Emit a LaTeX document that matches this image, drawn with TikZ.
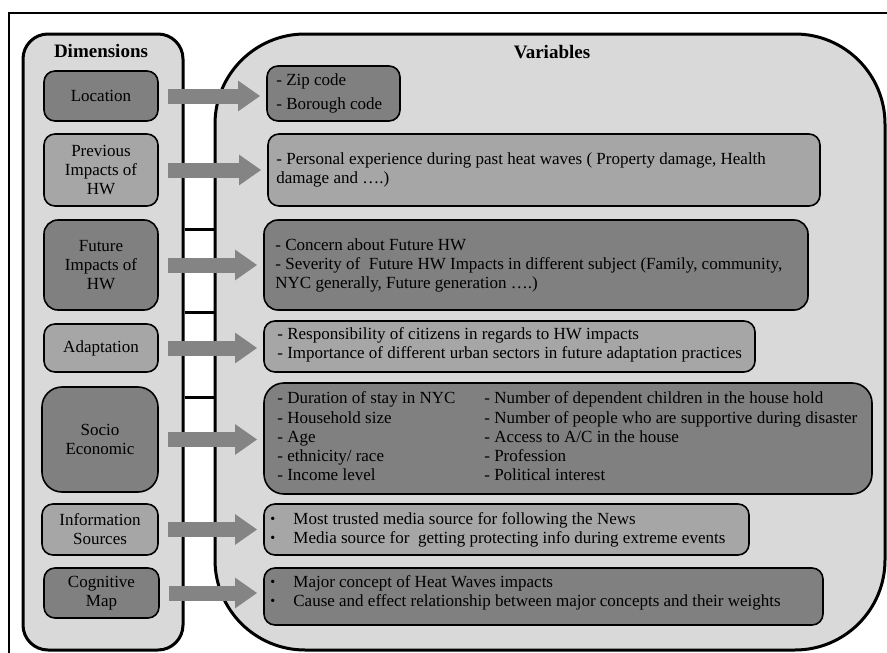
\documentclass[tikz,border=0pt]{standalone}
\usepackage{fontspec}
\setmainfont{Liberation Serif}
\usetikzlibrary{arrows.meta,calc}
\definecolor{contgray}{HTML}{D9D9D9}
\definecolor{boxdark}{HTML}{808080}
\definecolor{boxlight}{HTML}{A6A6A6}
\definecolor{arrowgray}{HTML}{848484}
\newcommand{\bul}{\makebox[23pt][l]{\raisebox{0.5pt}{\fontsize{14}{14}\selectfont •}}}
\begin{document}
\begin{tikzpicture}[x=1pt,y=-1pt,
  font=\fontsize{17}{19}\selectfont,
  cont/.style={draw, line width=3pt, fill=contgray, inner sep=0pt},
  dbox/.style={draw, line width=1.6pt, rounded corners=11pt, align=center, inner sep=0pt, minimum width=114pt},
  vbox/.style={draw, line width=1.6pt, rounded corners=11pt, inner sep=0pt},
  vtext/.style={align=left, inner sep=0pt, anchor=west},
  dark/.style={fill=boxdark},
  light/.style={fill=boxlight},
  title/.style={font=\fontsize{19}{21}\selectfont\bfseries},
  bigarrow/.style={draw=arrowgray, line width=15pt, -{Triangle[length=22pt,width=29pt]}, shorten <=9pt, shorten >=6pt},
  rung/.style={line width=3pt}]
\useasboundingbox (0,0) rectangle (887,653);
\fill[white] (0,0) rectangle (887,653);
% outer frame (only top and left edges visible)
\coordinate (fTR) at (887,13);
\coordinate (fTL) at (9,13);
\coordinate (fBL) at (9,653);
\draw[line width=2pt] (fTR) -- (fTL) -- (fBL);
% containers
\node[cont, rounded corners=25pt, minimum width=160pt, minimum height=616pt] (dimC) at (103,342) {};
\node[cont, rounded corners=90pt, minimum width=670pt, minimum height=616pt] (varC) at (550,342) {};
\node[title] (dimT) at (101,51) {Dimensions};
\node[title] (varT) at (552,52) {Variables};
% rungs
\coordinate (r1) at (0,229);
\coordinate (r2) at (0,312);
\coordinate (r3) at (0,397);
\draw[rung] (dimC.east |- r1) -- (varC.west |- r1);
\draw[rung] (dimC.east |- r2) -- (varC.west |- r2);
\draw[rung] (dimC.east |- r3) -- (varC.west |- r3);
% dimension boxes
\node[dbox, dark, minimum height=50pt] (d1) at (101,96) {Location};
\node[dbox, light, minimum height=72pt] (d2) at (101,170) {Previous\\Impacts of\\HW};
\node[dbox, dark, minimum height=90pt, rounded corners=14pt] (d3) at (101,265) {Future\\Impacts of\\HW};
\node[dbox, light, minimum height=48pt] (d4) at (101,348) {Adaptation};
\node[dbox, dark, minimum width=116pt, minimum height=105pt, rounded corners=20pt] (d5) at (100,439.5) {Socio\\Economic};
\node[dbox, light, minimum width=116pt, minimum height=51pt] (d6) at (100,529.5) {Information\\Sources};
\node[dbox, dark, minimum width=115pt, minimum height=50pt] (d7) at (101.5,593) {Cognitive\\Map};
% variable boxes
\node[vbox, dark, minimum width=133pt, minimum height=55pt] (v1) at (333.5,93.5) {};
\node[vtext] (t1) at ([xshift=10pt]v1.west) {- Zip code\\[5pt]- Borough code};
\node[vbox, light, minimum width=552pt, minimum height=72pt] (v2) at (544,170) {};
\node[vtext] (t2) at ([xshift=9pt]v2.west) {- Personal experience during past heat waves ( Property damage, Health\\damage and ….)};
\node[vbox, dark, minimum width=544pt, minimum height=90pt, rounded corners=14pt] (v3) at (536,265) {};
\node[vtext] (t3) at ([xshift=12pt]v3.west) {- Concern about Future HW\\- Severity of\ \ Future HW Impacts in different subject (Family, community,\\NYC generally, Future generation ….)};
\node[vbox, light, minimum width=491pt, minimum height=51pt] (v4) at (509.5,346.5) {};
\node[vtext] (t4) at ([xshift=14pt,yshift=2pt]v4.west) {- Responsibility of citizens in regards to HW impacts\\- Importance of different urban sectors in future adaptation practices};
\node[vbox, dark, minimum width=608pt, minimum height=111pt, rounded corners=20pt] (v5) at (568,438.5) {};
\node[vtext, font=\fontsize{17}{19.3}\selectfont] (t5) at ([xshift=14pt]v5.west) {%
\begin{tabular}{@{}p{207pt}@{}l@{}}
- Duration of stay in NYC & - Number of dependent children in the house hold\\
- Household size & - Number of people who are supportive during disaster\\
- Age & - Access to A/C in the house\\
- ethnicity/ race & - Profession\\
- Income level & - Political interest
\end{tabular}};
\node[vbox, light, minimum width=485pt, minimum height=51pt] (v6) at (506.5,529.5) {};
\node[vtext] (t6) at ([xshift=7pt]v6.west) {\bul Most trusted media source for following the News\\\bul Media source for\ \ getting protecting info during extreme events};
\node[vbox, dark, minimum width=559pt, minimum height=57pt] (v7) at (543.5,596.5) {};
\node[vtext] (t7) at ([xshift=7pt,yshift=4pt]v7.west) {\bul Major concept of Heat Waves impacts\\\bul Cause and effect relationship between major concepts and their weights};
% arrows
\draw[bigarrow] (d1.east) -- (d1.east -| v1.west);
\draw[bigarrow] (d2.east) -- (d2.east -| v2.west);
\draw[bigarrow] (d3.east) -- (d3.east -| v3.west);
\draw[bigarrow] (d4.east) -- (d4.east -| v4.west);
\draw[bigarrow] (d5.east) -- (d5.east -| v5.west);
\draw[bigarrow] (d6.east) -- (d6.east -| v6.west);
\draw[bigarrow] (d7.east) -- (d7.east -| v7.west);
\end{tikzpicture}
\end{document}
